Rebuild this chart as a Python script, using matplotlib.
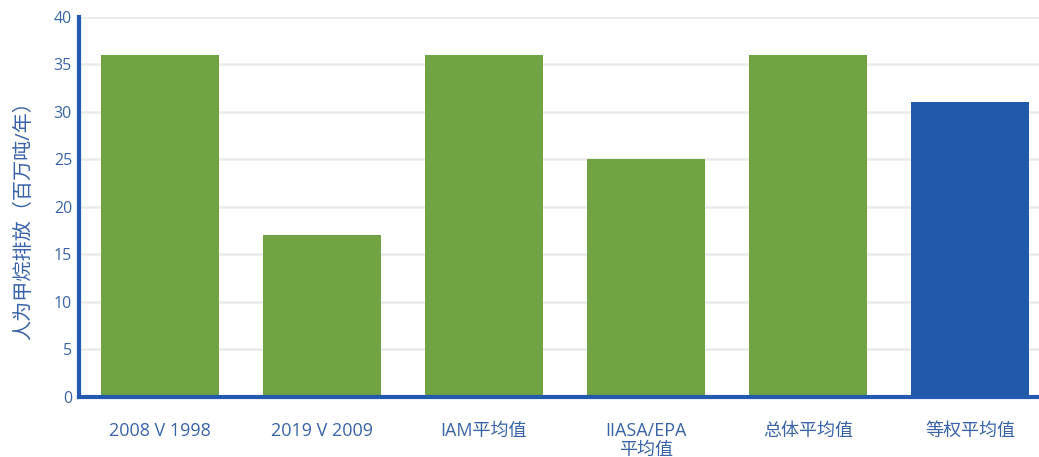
import matplotlib.pyplot as plt

plt.rcParams['font.family'] = ['Open Sans', 'Noto Sans CJK SC', 'DejaVu Sans']

# Data
categories = ["2008 V 1998", "2019 V 2009", "IAM平均值", "IIASA/EPA\n平均值", "总体平均值", "等权平均值"]
emissions = [36, 17, 36, 25, 36, 31]
bar_colors = ["#70a442", "#70a442", "#70a442", "#70a442", "#70a442", "#215aa8"]

text_color = "#3a64a8"
axis_color = "#2459b0"

fig = plt.figure(figsize=(10.39, 4.57), dpi=100)
ax = fig.add_axes([0.076, 0.1313, 0.9355, 0.8315])

x = list(range(len(categories)))
ax.bar(x, emissions, width=0.728, color=bar_colors, zorder=3)

ax.set_xlim(-0.5, len(categories) - 0.5)
ax.set_ylim(0, 40)
ax.set_yticks(range(0, 41, 5))
ax.set_xticks(x)
ax.set_xticklabels(categories, fontsize=13, color=text_color, linespacing=1.1)
ax.tick_params(axis='x', length=0, pad=18)
ax.tick_params(axis='y', length=0, pad=5, labelsize=11.5, labelcolor=text_color)

ax.grid(axis='y', color="#ebebeb", linewidth=1.8, zorder=0)

for side in ['top', 'right']:
    ax.spines[side].set_visible(False)
ax.spines['left'].set_color(axis_color)
ax.spines['left'].set_linewidth(3)
ax.spines['bottom'].set_color(axis_color)
ax.spines['bottom'].set_linewidth(3)
ax.spines['left'].set_zorder(4)
ax.spines['bottom'].set_zorder(4)

ax.set_ylabel("人为甲烷排放（百万吨/年）", fontsize=14.5, color=text_color)
ax.yaxis.set_label_coords(-0.046, 0.478)

fig.savefig("out.png", dpi=100)
